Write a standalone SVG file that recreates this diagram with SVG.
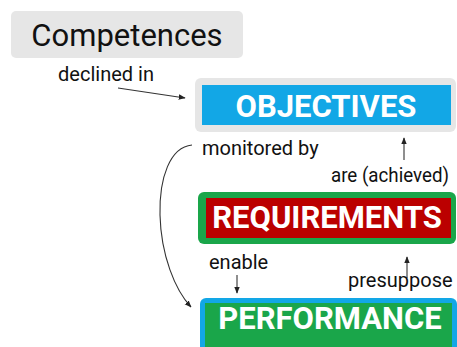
<svg xmlns="http://www.w3.org/2000/svg" width="457" height="347" viewBox="0 0 457 347">
<style>
.lbl{font-family:Roboto,"Liberation Sans",sans-serif;font-size:20px;fill:#111}
.big{font-family:Roboto,"Liberation Sans",sans-serif;font-size:31px;font-weight:bold;fill:#ffffff;text-anchor:middle}
.conn{fill:none;stroke:#333;stroke-width:1.1}
</style>
<defs>
<marker id="ah" viewBox="0 0 10 10" refX="9" refY="5" markerWidth="7" markerHeight="7" orient="auto" markerUnits="userSpaceOnUse">
<path d="M0,1 L10,5 L0,9 z" fill="#222"/>
</marker>
</defs>
<rect width="457" height="347" fill="#ffffff"/>
<g id="competences">
<rect x="11" y="11" width="232" height="47" rx="5" fill="#e6e6e6"/>
<text x="127" y="46" font-family="Roboto,'Liberation Sans',sans-serif" font-size="31" fill="#111" text-anchor="middle">Competences</text>
</g>
<g id="objectives">
<rect x="195" y="78" width="261" height="54" rx="6" fill="#e6e6e6"/>
<rect x="202" y="85" width="249" height="40" fill="#12a7e6"/>
<text class="big" x="326" y="117">OBJECTIVES</text>
</g>
<g id="requirements">
<rect x="198" y="192" width="258" height="52" rx="6" fill="#1aa64a"/>
<rect x="206" y="198" width="245" height="40" fill="#bb0000"/>
<text class="big" x="327" y="228">REQUIREMENTS</text>
</g>
<g id="performance">
<rect x="200" y="298" width="257" height="56" rx="6" fill="#12a7e6"/>
<rect x="205" y="303" width="247" height="50" fill="#1aa64a"/>
<text class="big" x="330" y="329">PERFORMANCE</text>
</g>
<g id="connectors">
<path class="conn" d="M118,88 L185,98" marker-end="url(#ah)"/>
<path class="conn" d="M192,145 C170,147 159,178 160,215 C161,255 175,290 191,307" marker-end="url(#ah)"/>
<path class="conn" d="M404,160 L404,138" marker-end="url(#ah)"/>
<path class="conn" d="M237,275 L237,293" marker-end="url(#ah)"/>
<path class="conn" d="M407,278 L407,257" marker-end="url(#ah)"/>
</g>
<g id="labels">
<text class="lbl" x="106" y="81" text-anchor="middle">declined in</text>
<text class="lbl" x="202" y="155">monitored by</text>
<text class="lbl" x="331" y="182" textLength="118" lengthAdjust="spacingAndGlyphs">are (achieved)</text>
<text class="lbl" x="209" y="269">enable</text>
<text class="lbl" x="348" y="287">presuppose</text>
</g>
</svg>
